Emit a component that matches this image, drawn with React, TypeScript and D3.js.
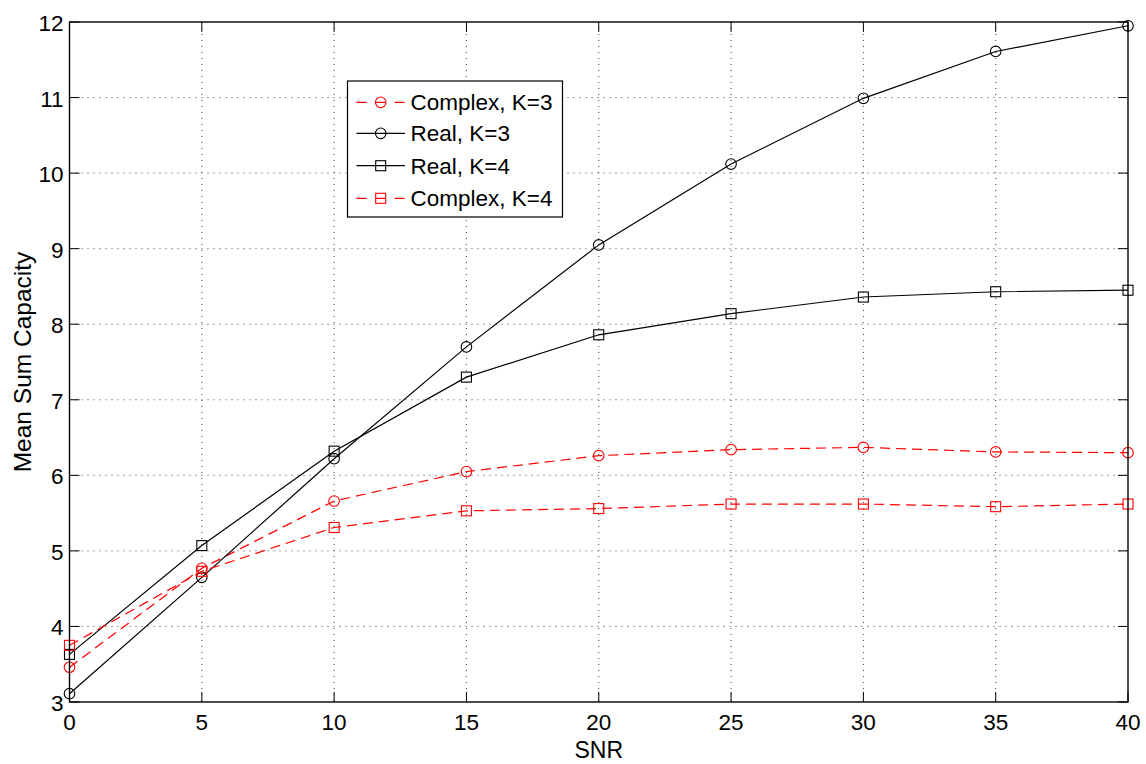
import React from "react";
import * as d3 from "d3";

// SNR sample points (dB)
const snr = [0, 5, 10, 15, 20, 25, 30, 35, 40];

// Mean sum capacity for each scheme
const complexK3 = [3.46, 4.77, 5.66, 6.05, 6.26, 6.34, 6.37, 6.31, 6.30];
const realK3 = [3.11, 4.65, 6.22, 7.70, 9.05, 10.12, 10.99, 11.61, 11.95];
const realK4 = [3.63, 5.07, 6.32, 7.30, 7.86, 8.14, 8.36, 8.43, 8.45];
const complexK4 = [3.75, 4.73, 5.31, 5.53, 5.56, 5.62, 5.62, 5.585, 5.62];

const xTicks = [0, 5, 10, 15, 20, 25, 30, 35, 40];
const yTicks = [3, 4, 5, 6, 7, 8, 9, 10, 11, 12];

type Series = {
  name: string;
  values: number[];
  color: string;
  dashed: boolean;
  marker: "circle" | "square";
};

const series: Series[] = [
  { name: "Complex, K=3", values: complexK3, color: "#ff0000", dashed: true, marker: "circle" },
  { name: "Real, K=3", values: realK3, color: "#000000", dashed: false, marker: "circle" },
  { name: "Real, K=4", values: realK4, color: "#000000", dashed: false, marker: "square" },
  { name: "Complex, K=4", values: complexK4, color: "#ff0000", dashed: true, marker: "square" },
];

const W = 1146;
const H = 764;
const plot = { left: 69.5, right: 1128, top: 22, bottom: 702 };
const FONT = "'Liberation Sans', Arial, Helvetica, sans-serif";

function Marker({ kind, x, y, color }: { kind: string; x: number; y: number; color: string }) {
  if (kind === "circle") {
    return <circle cx={x} cy={y} r={5.3} fill="none" stroke={color} strokeWidth={1.1} />;
  }
  return <rect x={x - 5} y={y - 5} width={10} height={10} fill="none" stroke={color} strokeWidth={1.1} />;
}

export default function App() {
  const x = d3.scaleLinear().domain([0, 40]).range([plot.left, plot.right]);
  const y = d3.scaleLinear().domain([3, 12]).range([plot.bottom, plot.top]);
  const line = d3
    .line<number>()
    .x((_, i) => x(snr[i]))
    .y((d) => y(d));

  const tickLen = 10;
  const legend = { x: 347.5, y: 81, w: 215, h: 136 };
  const legendRows = [102.3, 133.3, 165.7, 198.3];

  return (
    <svg
      width={W}
      height={H}
      style={{ position: "absolute", left: 0, top: 0, background: "#fff" }}
      fontFamily={FONT}
    >
      <rect x={0} y={0} width={W} height={H} fill="#fff" />

      {/* dotted grid */}
      <g stroke="#444" strokeWidth={1} strokeDasharray="1,5">
        {xTicks.slice(1, -1).map((t) => (
          <line key={"gx" + t} x1={x(t)} x2={x(t)} y1={plot.top} y2={plot.bottom} />
        ))}
        {yTicks.slice(1, -1).map((t) => (
          <line key={"gy" + t} x1={plot.left} x2={plot.right} y1={y(t)} y2={y(t)} />
        ))}
      </g>

      {/* inward ticks on all four sides */}
      <g stroke="#000" strokeWidth={1}>
        {xTicks.map((t) => (
          <g key={"tx" + t}>
            <line x1={x(t)} x2={x(t)} y1={plot.bottom} y2={plot.bottom - tickLen} />
            <line x1={x(t)} x2={x(t)} y1={plot.top} y2={plot.top + tickLen} />
          </g>
        ))}
        {yTicks.map((t) => (
          <g key={"ty" + t}>
            <line x1={plot.left} x2={plot.left + tickLen} y1={y(t)} y2={y(t)} />
            <line x1={plot.right} x2={plot.right - tickLen} y1={y(t)} y2={y(t)} />
          </g>
        ))}
      </g>

      {/* series lines and markers */}
      {series.map((s) => (
        <g key={s.name}>
          <path
            d={line(s.values) || ""}
            fill="none"
            stroke={s.color}
            strokeWidth={1.2}
            strokeDasharray={s.dashed ? "10,6" : undefined}
          />
          {s.values.map((v, i) => (
            <Marker key={i} kind={s.marker} x={x(snr[i])} y={y(v)} color={s.color} />
          ))}
        </g>
      ))}

      {/* axes box */}
      <rect
        x={plot.left}
        y={plot.top}
        width={plot.right - plot.left}
        height={plot.bottom - plot.top}
        fill="none"
        stroke="#000"
        strokeWidth={1.4}
      />

      {/* tick labels */}
      <g fontSize={22.5} fill="#000">
        {xTicks.map((t) => (
          <text key={"lx" + t} x={x(t)} y={729.5} textAnchor="middle">
            {t}
          </text>
        ))}
        {yTicks.map((t) => (
          <text key={"ly" + t} x={63.5} y={y(t) + 9} textAnchor="end">
            {t}
          </text>
        ))}
      </g>

      {/* axis titles */}
      <text x={(plot.left + plot.right) / 2} y={758} textAnchor="middle" fontSize={23}>
        SNR
      </text>
      <text
        transform={`translate(31,${(plot.top + plot.bottom) / 2}) rotate(-90)`}
        textAnchor="middle"
        fontSize={24.5}
      >
        Mean Sum Capacity
      </text>

      {/* legend */}
      <g>
        <rect x={legend.x} y={legend.y} width={legend.w} height={legend.h} fill="#fff" stroke="#000" strokeWidth={1.2} />
        {series.map((s, i) => {
          const ly = legendRows[i];
          return (
            <g key={"lg" + s.name}>
              <line
                x1={356.5}
                x2={405}
                y1={ly}
                y2={ly}
                stroke={s.color}
                strokeWidth={1.2}
                strokeDasharray={s.dashed ? "10,9" : undefined}
              />
              <Marker kind={s.marker} x={380.7} y={ly} color={s.color} />
              <text x={410.5} y={ly + 8} fontSize={22.5} fill="#000">
                {s.name}
              </text>
            </g>
          );
        })}
      </g>
    </svg>
  );
}
